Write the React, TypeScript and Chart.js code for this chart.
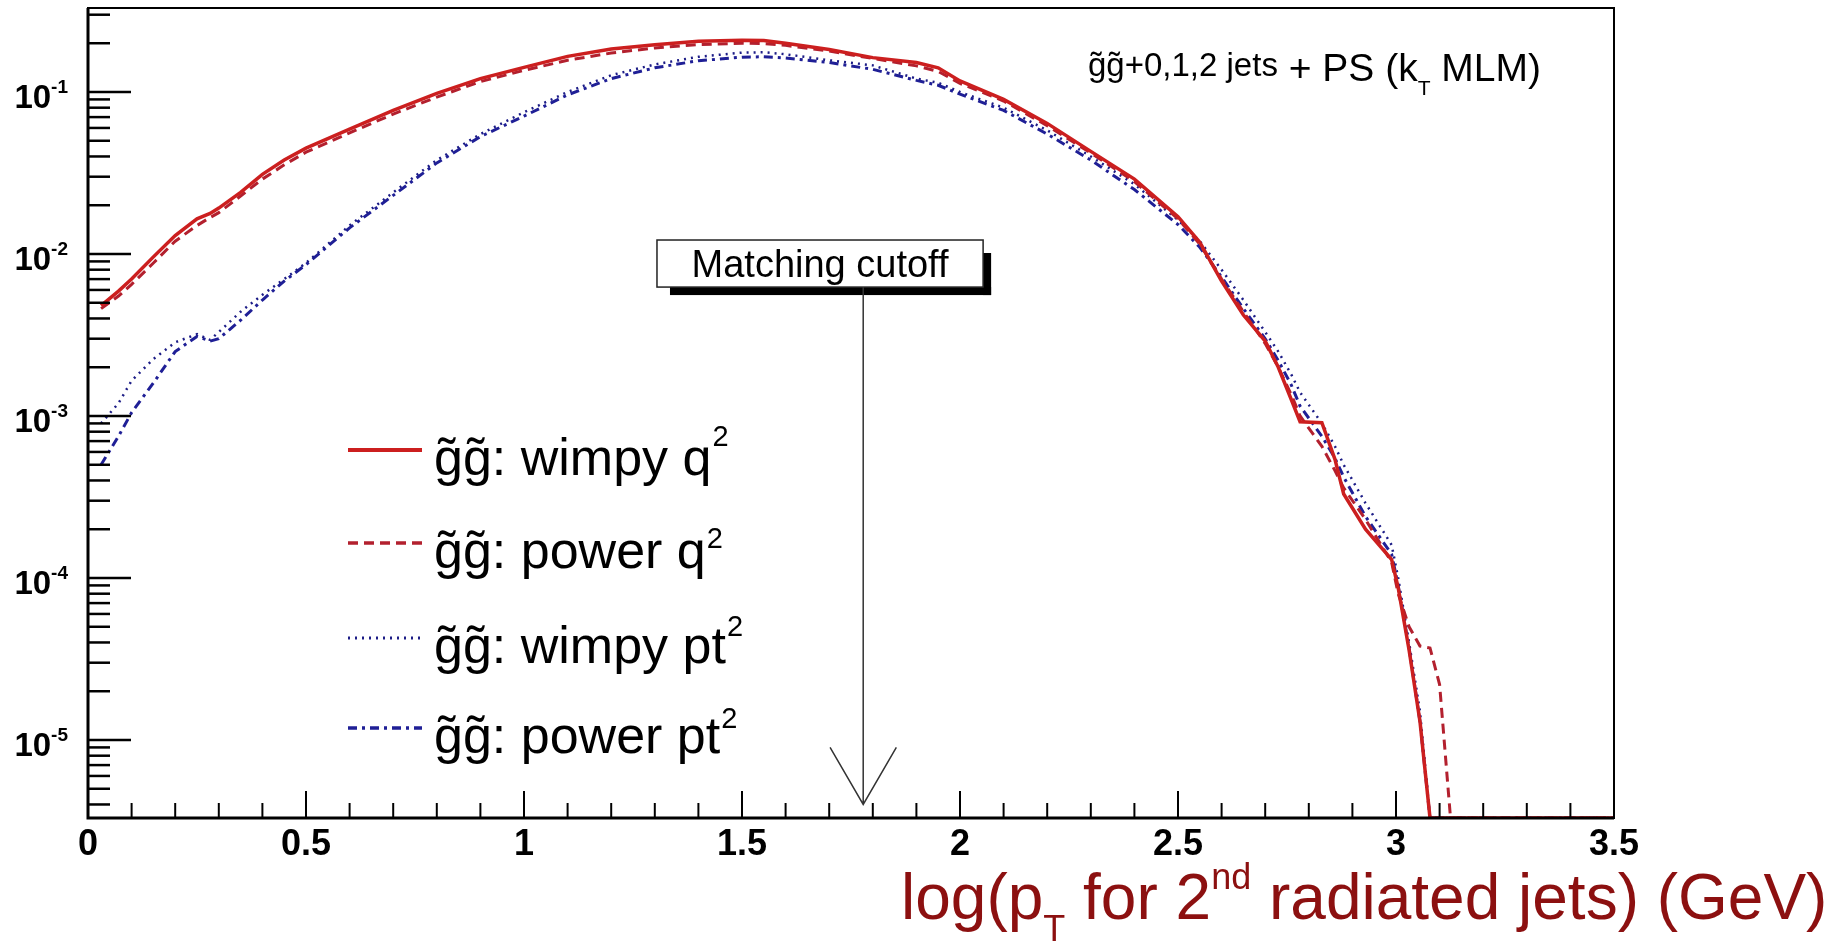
import React, { useEffect, useRef } from "react";
import { Chart, registerables } from "chart.js";

Chart.register(...registerables);

// ---------------- data ----------------
const X_CENTERS = [
  0.03, 0.07, 0.1, 0.15, 0.2, 0.25, 0.28, 0.3, 0.35, 0.4,
  0.45, 0.5, 0.6, 0.7, 0.8, 0.9, 1.0, 1.1, 1.2, 1.3,
  1.4, 1.5, 1.55, 1.6, 1.7, 1.8, 1.9, 1.95, 2.0, 2.1,
  2.2, 2.3, 2.4, 2.5, 2.55, 2.6, 2.65, 2.7, 2.73, 2.76,
  2.78, 2.83, 2.86, 2.88, 2.93, 2.99, 3.005, 3.03, 3.055, 3.078,
  3.1, 3.125, 3.5,
];

const WIMPY_Q2 = [
  4.8e-3, 5.9e-3, 7.0e-3, 9.6e-3, 0.013, 0.0165, 0.0178, 0.0192, 0.024, 0.031,
  0.038, 0.045, 0.059, 0.077, 0.098, 0.121, 0.142, 0.166, 0.184, 0.196,
  0.206, 0.209, 0.208, 0.2, 0.183, 0.163, 0.152, 0.141, 0.117, 0.09,
  0.064, 0.043, 0.029, 0.017, 0.0118, 0.0068, 4.2e-3, 2.9e-3, 2.0e-3, 1.26e-3,
  9.2e-4, 9.1e-4, 5.4e-4, 3.3e-4, 2.0e-4, 1.3e-4, 8.7e-5, 3.6e-5, 1.3e-5, 0,
  0, 0, 0,
];

const POWER_Q2 = [
  4.6e-3, 5.5e-3, 6.5e-3, 8.8e-3, 0.012, 0.015, 0.0168, 0.018, 0.0228, 0.029,
  0.0355, 0.0425, 0.056, 0.073, 0.093, 0.116, 0.136, 0.157, 0.174, 0.187,
  0.196, 0.2, 0.199, 0.194, 0.179, 0.161, 0.145, 0.134, 0.113, 0.088,
  0.062, 0.042, 0.028, 0.0165, 0.0115, 0.007, 4.4e-3, 2.8e-3, 2.0e-3, 1.35e-3,
  1.0e-3, 6.5e-4, 4.6e-4, 3.6e-4, 2.3e-4, 1.25e-4, 8.0e-5, 5.0e-5, 3.8e-5, 3.7e-5,
  2.2e-5, 0, 0,
];

const WIMPY_PT2 = [
  9.0e-4, 1.2e-3, 1.65e-3, 2.25e-3, 2.85e-3, 3.2e-3, 2.95e-3, 3.3e-3, 4.4e-3, 5.6e-3,
  7.0e-3, 8.8e-3, 0.015, 0.024, 0.038, 0.055, 0.075, 0.1, 0.127, 0.148,
  0.165, 0.175, 0.176, 0.171, 0.157, 0.146, 0.121, 0.114, 0.1, 0.08,
  0.058, 0.04, 0.027, 0.0162, 0.012, 0.008, 5.2e-3, 3.3e-3, 2.5e-3, 1.8e-3,
  1.4e-3, 9.0e-4, 6.5e-4, 5.0e-4, 2.9e-4, 1.6e-4, 1.0e-4, 4.0e-5, 1.5e-5, 0,
  0, 0, 0,
];

const POWER_PT2 = [
  5.0e-4, 7.5e-4, 1.05e-3, 1.6e-3, 2.5e-3, 3.1e-3, 2.9e-3, 3.0e-3, 3.9e-3, 5.2e-3,
  6.8e-3, 8.6e-3, 0.0145, 0.023, 0.0365, 0.053, 0.071, 0.096, 0.121, 0.141,
  0.156, 0.164, 0.165, 0.162, 0.152, 0.138, 0.118, 0.11, 0.097, 0.077,
  0.055, 0.038, 0.025, 0.0152, 0.011, 0.0072, 4.6e-3, 3.0e-3, 2.2e-3, 1.55e-3,
  1.15e-3, 7.5e-4, 5.5e-4, 4.2e-4, 2.4e-4, 1.4e-4, 9.0e-5, 3.7e-5, 1.3e-5, 0,
  0, 0, 0,
];

const SERIES_NAMES = ["g̃g̃: wimpy q", "g̃g̃: power q", "g̃g̃: wimpy pt", "g̃g̃: power pt"];
const SERIES_SUPERSCRIPT = "2";
const X_TICK_VALUES = [0, 0.5, 1, 1.5, 2, 2.5, 3, 3.5];
const X_TICK_LABELS = ["0", "0.5", "1", "1.5", "2", "2.5", "3", "3.5"];
const Y_DECADES = [-1, -2, -3, -4, -5];
const MATCHING_CUTOFF = 1.778; // log10(60 GeV)
const CUTOFF_LABEL = "Matching cutoff";
const PROCESS_LABEL_A = "g̃g̃+0,1,2 jets";
const PROCESS_LABEL_B = " + PS (k";
const PROCESS_LABEL_SUB = "T";
const PROCESS_LABEL_C = " MLM)";

const X_MIN = 0;
const X_MAX = 3.5;
const Y_MIN = 3.3e-6;
const Y_MAX = 0.33;

// ---------------- styles / layout ----------------
const FONT = '"Liberation Sans", Arial, Helvetica, sans-serif';
const STYLES = [
  { color: "#cc1f1f", width: 3.5, dash: [] as number[] },
  { color: "#b3202e", width: 3, dash: [10, 6] },
  { color: "#1c1c86", width: 2.5, dash: [2, 5] },
  { color: "#1f1f96", width: 3, dash: [9, 5, 3, 5] },
];
const SERIES = [WIMPY_Q2, POWER_Q2, WIMPY_PT2, POWER_PT2];
const LEGEND_BASELINES = [475, 568, 663, 753];
const LEGEND_SUP_OFFSETS = [-29, -20, -27, -25];

function drawRich(ctx: CanvasRenderingContext2D, x: number, baseline: number,
  segs: { t: string; size: number; dy: number; bold?: boolean }[], color: string) {
  let cx = x;
  ctx.fillStyle = color;
  ctx.textAlign = "left";
  ctx.textBaseline = "alphabetic";
  for (const s of segs) {
    ctx.font = `${s.bold ? "bold " : ""}${s.size}px ${FONT}`;
    ctx.fillText(s.t, cx, baseline + s.dy);
    cx += ctx.measureText(s.t).width;
  }
  return cx;
}

const rootStyle = {
  id: "rootStyle",
  afterDraw(chart: any) {
    const { ctx, chartArea: a, scales } = chart;
    const xs = scales.x;
    const ys = scales.y;
    ctx.save();

    // frame + axes
    ctx.setLineDash([]);
    ctx.strokeStyle = "#000";
    ctx.lineWidth = 2;
    ctx.strokeRect(a.left, a.top, a.right - a.left, a.bottom - a.top);
    ctx.lineWidth = 3;
    ctx.beginPath();
    ctx.moveTo(a.left, a.top);
    ctx.lineTo(a.left, a.bottom);
    ctx.lineTo(a.right, a.bottom);
    ctx.stroke();

    // y ticks (inside)
    ctx.lineWidth = 2.5;
    for (let e = -7; e <= 0; e++) {
      for (let k = 1; k <= 9; k++) {
        const v = k * Math.pow(10, e);
        if (v < ys.min || v > ys.max) continue;
        const py = ys.getPixelForValue(v);
        const len = k === 1 ? 43 : 22;
        ctx.beginPath();
        ctx.moveTo(a.left, py);
        ctx.lineTo(a.left + len, py);
        ctx.stroke();
      }
    }
    // x ticks (inside)
    ctx.lineWidth = 2;
    const nMinor = Math.round((X_MAX - X_MIN) * 10);
    for (let i = 0; i <= nMinor; i++) {
      const px = xs.getPixelForValue(X_MIN + i / 10);
      const len = i % 5 === 0 ? 27 : 15;
      ctx.beginPath();
      ctx.moveTo(px, a.bottom);
      ctx.lineTo(px, a.bottom - len);
      ctx.stroke();
    }

    // y labels 10^-n
    ctx.fillStyle = "#000";
    for (const e of Y_DECADES) {
      const py = ys.getPixelForValue(Math.pow(10, e));
      ctx.font = `bold 19px ${FONT}`;
      const sup = String(e);
      const supW = ctx.measureText(sup).width;
      const right = a.left - 20;
      ctx.textAlign = "left";
      ctx.textBaseline = "alphabetic";
      ctx.fillText(sup, right - supW, py + 1);
      ctx.font = `bold 33px ${FONT}`;
      ctx.textAlign = "right";
      ctx.fillText("10", right - supW, py + 16);
    }

    // matching cutoff box + arrow
    const bx0 = xs.getPixelForValue(1.305);
    const bx1 = xs.getPixelForValue(2.053);
    const by0 = ys.getPixelForValue(0.0122);
    const by1 = ys.getPixelForValue(0.00625);
    ctx.fillStyle = "#000";
    ctx.fillRect(bx1, by0 + 13, 8, by1 - by0 - 5);
    ctx.fillRect(bx0 + 13, by1, bx1 - bx0 - 5, 8);
    ctx.fillStyle = "#fff";
    ctx.fillRect(bx0, by0, bx1 - bx0, by1 - by0);
    ctx.lineWidth = 1.5;
    ctx.strokeStyle = "#222";
    ctx.strokeRect(bx0, by0, bx1 - bx0, by1 - by0);
    ctx.fillStyle = "#000";
    ctx.font = `38px ${FONT}`;
    ctx.textAlign = "center";
    ctx.textBaseline = "alphabetic";
    ctx.fillText(CUTOFF_LABEL, (bx0 + bx1) / 2, (by0 + by1) / 2 + 13);

    const ax = xs.getPixelForValue(MATCHING_CUTOFF);
    const tipY = ys.getPixelForValue(4.0e-6);
    const headY = ys.getPixelForValue(9.0e-6);
    const hw = xs.getPixelForValue(MATCHING_CUTOFF + 0.076) - ax;
    ctx.strokeStyle = "#333";
    ctx.lineWidth = 1.5;
    ctx.beginPath();
    ctx.moveTo(ax, by1);
    ctx.lineTo(ax, tipY);
    ctx.moveTo(ax - hw, headY);
    ctx.lineTo(ax, tipY);
    ctx.lineTo(ax + hw, headY);
    ctx.stroke();

    // legend
    STYLES.forEach((s, i) => {
      const base = LEGEND_BASELINES[i];
      ctx.strokeStyle = s.color;
      ctx.lineWidth = s.width + 0.5;
      ctx.setLineDash(s.dash);
      ctx.beginPath();
      ctx.moveTo(348, base - 25);
      ctx.lineTo(422, base - 25);
      ctx.stroke();
      ctx.setLineDash([]);
      const end = drawRich(ctx, 434, base, [{ t: SERIES_NAMES[i], size: 52, dy: 0 }], "#000");
      drawRich(ctx, end + 1, base, [{ t: SERIES_SUPERSCRIPT, size: 29, dy: LEGEND_SUP_OFFSETS[i] }], "#000");
    });

    // process annotation (top right)
    const endA = drawRich(ctx, 1088, 76, [{ t: PROCESS_LABEL_A, size: 33, dy: 0 }], "#000");
    drawRich(ctx, endA, 81, [
      { t: PROCESS_LABEL_B, size: 39, dy: 0 },
      { t: PROCESS_LABEL_SUB, size: 21, dy: 14 },
      { t: PROCESS_LABEL_C, size: 39, dy: 0 },
    ], "#000");

    // x-axis title
    drawRich(ctx, 901, 919, [
      { t: "log(p", size: 64, dy: 0 },
      { t: "T", size: 36, dy: 22 },
      { t: " for 2", size: 64, dy: 0 },
      { t: "nd", size: 36, dy: -30 },
      { t: " radiated jets) (GeV)", size: 64, dy: 0 },
    ], "#8c1010");

    ctx.restore();
  },
};

export default function App() {
  const ref = useRef<HTMLCanvasElement | null>(null);

  useEffect(() => {
    document.body.style.margin = "0";
    document.body.style.overflow = "hidden";
    const canvas = ref.current;
    if (!canvas) return;
    const datasets = SERIES.map((vals, i) => ({
      label: SERIES_NAMES[i] + SERIES_SUPERSCRIPT,
      data: X_CENTERS.map((x, j) => ({ x, y: vals[j] > 0 ? vals[j] : Y_MIN })),
      borderColor: STYLES[i].color,
      borderWidth: STYLES[i].width,
      borderDash: STYLES[i].dash,
      pointRadius: 0,
      tension: 0,
      fill: false,
    }));
    const chart = new Chart(canvas, {
      type: "line",
      data: { datasets },
      options: {
        animation: false,
        responsive: false,
        devicePixelRatio: 1,
        layout: { padding: { top: 8, right: 234, left: 0, bottom: 0 } },
        plugins: { legend: { display: false }, tooltip: { enabled: false } },
        scales: {
          x: {
            type: "linear",
            min: X_MIN,
            max: X_MAX,
            grid: { display: false, drawTicks: false },
            border: { display: false },
            afterBuildTicks: (s: any) => {
              s.ticks = X_TICK_VALUES.map((v) => ({ value: v }));
            },
            ticks: {
              autoSkip: false,
              maxRotation: 0,
              padding: 5,
              color: "#000",
              font: { family: FONT, size: 36, weight: "bold" },
              callback: (v: any) => {
                const idx = X_TICK_VALUES.indexOf(Number(v));
                return idx >= 0 ? X_TICK_LABELS[idx] : "";
              },
            },
            afterFit: (s: any) => {
              s.height = 124;
            },
          },
          y: {
            type: "logarithmic",
            min: Y_MIN,
            max: Y_MAX,
            grid: { display: false, drawTicks: false },
            border: { display: false },
            ticks: { display: false },
            afterFit: (s: any) => {
              s.width = 88;
            },
          },
        },
      },
      plugins: [rootStyle],
    } as any);
    return () => chart.destroy();
  }, []);

  return (
    <div style={{ width: 1848, height: 942, background: "#fff" }}>
      <canvas ref={ref} width={1848} height={942} style={{ display: "block" }} />
    </div>
  );
}
